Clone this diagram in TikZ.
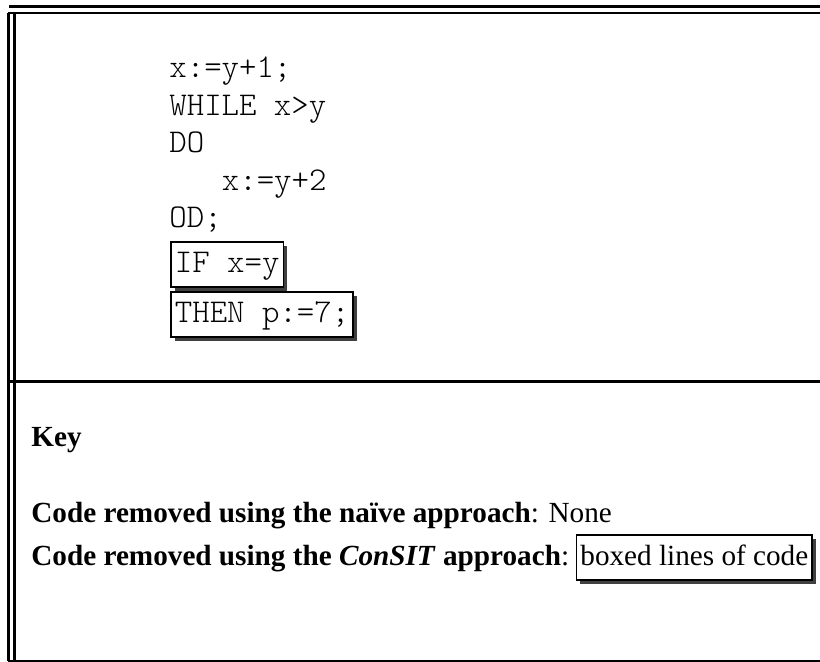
\documentclass[tikz,border=0pt]{standalone}
\usepackage{fontspec}
\setmainfont{Liberation Serif}
\setmonofont{Latin Modern Mono Light}
\usetikzlibrary{positioning,shadows}

\tikzset{
  frameline/.style={line width=1.1pt},
  codeline/.style={anchor=base west,inner sep=0pt,font=\fontsize{16.6pt}{19pt}\selectfont\ttfamily},
  keyline/.style={anchor=base west,inner sep=0pt,font=\fontsize{14.6pt}{17.5pt}\selectfont},
  removed/.style={draw,fill=white,line width=0.9pt,anchor=base west,inner xsep=2pt,inner ysep=0.2pt,
    text height=15.2pt,text depth=6.8pt,
    drop shadow={shadow xshift=2pt,shadow yshift=-2pt,fill=black!75,opacity=1}}
}

\begin{document}
\begin{tikzpicture}[x=0.5pt,y=-0.5pt]
  \useasboundingbox (0,0) rectangle (820,662);

  % frame of the table
  \draw[frameline] (9,6.5) -- (820,6.5);
  \draw[frameline] (8,12.7) -- (820,12.7);
  \draw[frameline] (8.5,12.7) -- (8.5,661);
  \draw[frameline] (14.5,12.7) -- (14.5,661);
  \draw[frameline] (8,381.5) -- (820,381.5);
  \draw[frameline] (8,661) -- (820,661);

  % program
  \node[codeline] (assign1) at (169,78) {x:=y+1;};
  \node[codeline] (while) at (169,116) {WHILE x>y};
  \node[codeline] (do) at (169,153) {DO};
  \node[codeline] (assign2) at (221.5,191) {x:=y+2};
  \node[codeline] (od) at (169,228) {OD;};
  \node[removed,font=\fontsize{16.6pt}{19pt}\selectfont\ttfamily] (iftest) at (170,273) {IF x=y};
  \node[removed,font=\fontsize{16.6pt}{19pt}\selectfont\ttfamily] (thenpart) at (170,323) {THEN p:=7;};

  % key
  \node[keyline] (key) at (31,447) {\textbf{Key}};
  \node[keyline] (naive) at (31,523) {\textbf{Code removed using the naïve approach}: None};
  \node[keyline] (consit) at (31,566) {\textbf{Code removed using the \textit{ConSIT} approach}:};
  \node[removed,font=\fontsize{14.6pt}{17.5pt}\selectfont,base right=3pt of consit] (sample) {boxed lines of code};
\end{tikzpicture}
\end{document}
